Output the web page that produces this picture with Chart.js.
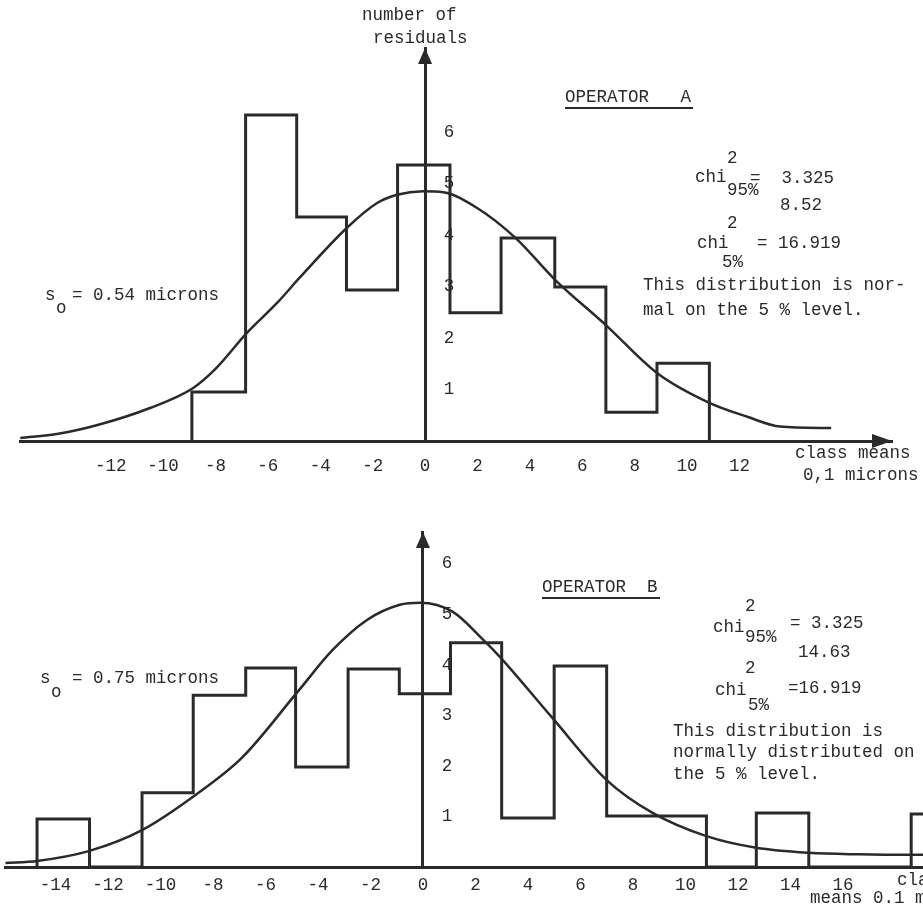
<!DOCTYPE html>
<html>
<head>
<meta charset="utf-8">
<title>Distribution of residuals, operators A and B</title>
<script src="https://cdn.jsdelivr.net/npm/chart.js@4.4.1/dist/chart.umd.min.js"></script>
<style>
  html, body { margin: 0; padding: 0; background: #fff; }
  canvas { display: block; }
</style>
</head>
<body>
<canvas id="chartA" width="923" height="490"></canvas>
<canvas id="chartB" width="923" height="421"></canvas>
<script>
// Operator A: class edges (0.1 micron), residuals per class, fitted normal curve
const edgesA = [-8.9, -6.85, -4.9, -3.0, -1.05, 0.95, 2.9, 4.95, 6.9, 8.85, 10.85];
const countsA = [0.95, 6.33, 4.35, 2.93, 5.36, 2.49, 3.94, 2.99, 0.56, 1.51];
const curveXA = [-15.45, -14, -12.5, -10.5, -8.85, -8, -6.8, -5.65, -4.77, -2.98, -1.83, -1.07, -0.08, 0.7, 2.0, 3.46, 4.96, 6.9, 8.85, 10.85, 12.3, 13.55, 15.5];
const curveYA = [0.06, 0.14, 0.31, 0.64, 1.03, 1.4, 2.1, 2.68, 3.18, 4.14, 4.62, 4.78, 4.85, 4.83, 4.52, 3.94, 3.13, 2.25, 1.32, 0.74, 0.47, 0.28, 0.25];
const xTicksA = [-12, -10, -8, -6, -4, -2, 0, 2, 4, 6, 8, 10, 12];

// Operator B
const edgesB = [-14.7, -12.7, -10.7, -8.75, -6.75, -4.85, -2.85, -0.9, 1.05, 3.0, 5.0, 7.0, 8.9, 10.8, 12.7, 14.7, 16.7, 18.6, 20.6];
const countsB = [0.95, 0, 1.47, 3.4, 3.94, 1.98, 3.92, 3.43, 4.44, 0.97, 3.98, 1.01, 1.01, 0, 1.07, 0, 0, 1.05];
const curveXB = [-15.9, -14.7, -12.7, -10.7, -8.6, -6.86, -4.8, -3.43, -2.13, -0.88, -0.11, 1.14, 2.29, 2.93, 4.9, 7.0, 8.75, 10.8, 12.7, 14.7, 16.6, 18.6, 19.1];
const curveYB = [0.08, 0.12, 0.32, 0.73, 1.45, 2.18, 3.45, 4.3, 4.89, 5.19, 5.23, 5.05, 4.5, 4.16, 2.97, 1.72, 1.07, 0.61, 0.38, 0.28, 0.25, 0.24, 0.24];
const xTicksB = [-14, -12, -10, -8, -6, -4, -2, 0, 2, 4, 6, 8, 10, 12, 14, 16];

const yTicks = [1, 2, 3, 4, 5, 6];

const ink = "#2a2a2a";
const mono = "'Liberation Mono', 'DejaVu Sans Mono', monospace";

// outline of the histogram as a stepped line through the class edges
function histPoints(edges, counts) {
  const pts = [{ x: edges[0], y: 0 }];
  edges.forEach((e, i) => pts.push({ x: e, y: i < counts.length ? counts[i] : 0 }));
  return pts;
}

function curvePoints(xs, ys) {
  return xs.map((x, i) => ({ x: x, y: ys[i] }));
}

// typed text, arrow heads and the y labels right of the axis
function typewriter(offsetY, notes, rules, xArrow) {
  return {
    id: "typewriter",
    afterDraw(chart) {
      const { ctx, chartArea, scales } = chart;
      const x0 = scales.x.getPixelForValue(0);
      ctx.save();
      ctx.fillStyle = ink;
      ctx.strokeStyle = ink;

      ctx.beginPath();
      ctx.moveTo(x0, chartArea.top);
      ctx.lineTo(x0 - 7, chartArea.top + 16);
      ctx.lineTo(x0 + 7, chartArea.top + 16);
      ctx.closePath();
      ctx.fill();

      if (xArrow) {
        const yb = chartArea.bottom;
        ctx.beginPath();
        ctx.moveTo(chartArea.right, yb);
        ctx.lineTo(chartArea.right - 20, yb - 7);
        ctx.lineTo(chartArea.right - 20, yb + 7);
        ctx.closePath();
        ctx.fill();
      }

      ctx.font = "17.5px " + mono;
      ctx.textBaseline = "middle";
      ctx.textAlign = "center";
      yTicks.forEach(v => ctx.fillText(String(v), x0 + 24, scales.y.getPixelForValue(v)));

      ctx.textAlign = "left";
      notes.forEach(n => ctx.fillText(n[0], n[1], n[2] - offsetY));

      ctx.lineWidth = 2;
      rules.forEach(r => {
        ctx.beginPath();
        ctx.moveTo(r[0], r[2] - offsetY);
        ctx.lineTo(r[1], r[2] - offsetY);
        ctx.stroke();
      });
      ctx.restore();
    }
  };
}

function makeChart(id, o) {
  return new Chart(document.getElementById(id), {
    type: "line",
    data: {
      datasets: [
        {
          data: histPoints(o.edges, o.counts),
          stepped: "before",
          borderColor: ink,
          borderWidth: 3,
          pointRadius: 0,
          fill: false,
          clip: false,
        },
        {
          data: curvePoints(o.cx, o.cy),
          cubicInterpolationMode: "monotone",
          borderColor: ink,
          borderWidth: 2.5,
          pointRadius: 0,
          fill: false,
          clip: false,
        },
      ],
    },
    options: {
      responsive: false,
      animation: false,
      events: [],
      layout: { padding: o.padding },
      plugins: { legend: { display: false }, tooltip: { enabled: false } },
      scales: {
        x: {
          type: "linear",
          min: o.xmin,
          max: o.xmax,
          grid: { display: false },
          border: { color: ink, width: 3 },
          ticks: { color: ink, font: { family: mono, size: 17.5 }, padding: o.tickPad, maxRotation: 0, autoSkip: false },
          afterBuildTicks: s => { s.ticks = o.xTicks.map(v => ({ value: v })); },
          afterFit: s => { s.height = 40; },
        },
        y: {
          type: "linear",
          position: { x: 0 },
          min: 0,
          max: o.ymax,
          grid: { display: false },
          border: { color: ink, width: 3 },
          ticks: { display: false },
        },
      },
    },
    plugins: [typewriter(o.offsetY, o.notes, o.rules, o.xArrow)],
  });
}

makeChart("chartA", {
  edges: edgesA, counts: countsA, cx: curveXA, cy: curveYA, xTicks: xTicksA,
  padding: { top: 48, left: 20, right: 31, bottom: 9 },
  xmin: -15.46, xmax: 17.82, ymax: 7.63, tickPad: 7,
  offsetY: 0, xArrow: true,
  notes: [
    ["number of", 362, 15], ["residuals", 373, 38],
    ["OPERATOR   A", 565, 97],
    ["2", 727, 158], ["chi", 695, 177], ["95%", 727, 190], ["=  3.325", 750, 178],
    ["8.52", 780, 205],
    ["2", 727, 223], ["chi", 697, 243], ["5%", 722, 262], ["= 16.919", 757, 243],
    ["This distribution is nor-", 643, 285], ["mal on the 5 % level.", 643, 310],
    ["s", 45, 295], ["o", 56, 308], ["= 0.54 microns", 72, 295],
    ["class means", 795, 453], ["0,1 microns", 803, 475],
  ],
  rules: [[565, 693, 108]],
});

makeChart("chartB", {
  edges: edgesB, counts: countsB, cx: curveXB, cy: curveYB, xTicks: xTicksB,
  padding: { top: 42, left: 5, right: 0, bottom: 4 },
  xmin: -15.92, xmax: 19.05, ymax: 6.63, tickPad: 0,
  offsetY: 490, xArrow: false,
  notes: [
    ["OPERATOR  B", 542, 587],
    ["2", 745, 606], ["chi", 713, 627], ["95%", 745, 637], ["= 3.325", 790, 623],
    ["14.63", 798, 652],
    ["2", 745, 668], ["chi", 715, 690], ["5%", 748, 705], ["=16.919", 788, 688],
    ["This distribution is", 673, 731], ["normally distributed on", 673, 752], ["the 5 % level.", 673, 774],
    ["s", 40, 678], ["o", 51, 692], ["= 0.75 microns", 72, 678],
    ["class", 897, 880], ["means 0.1 microns", 810, 898],
  ],
  rules: [[542, 660, 598]],
});
</script>
</body>
</html>
